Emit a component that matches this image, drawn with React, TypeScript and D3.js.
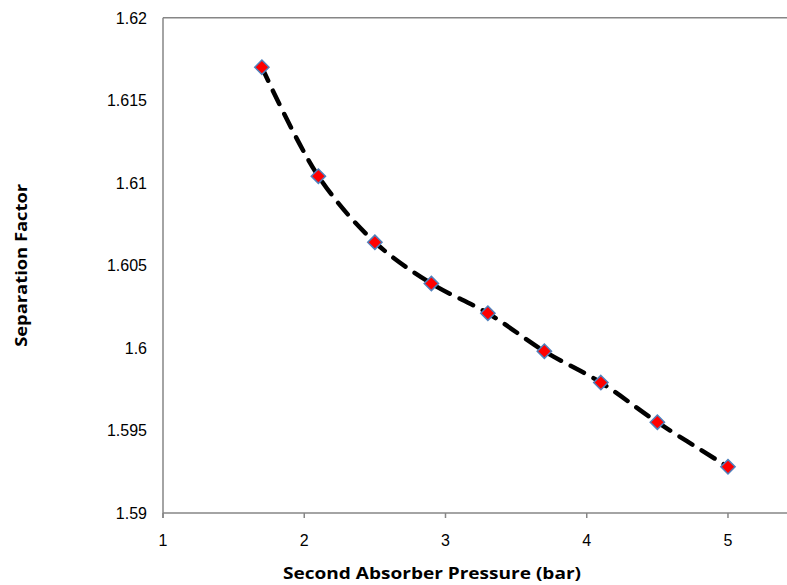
import React, { useEffect, useRef } from "react";
import * as d3 from "d3";

const pressures = [1.7, 2.1, 2.5, 2.9, 3.3, 3.7, 4.1, 4.5, 5.0];
const factors = [1.617, 1.6104, 1.6064, 1.6039, 1.6021, 1.5998, 1.5979, 1.5955, 1.5928];
const xTicks = [1, 2, 3, 4, 5];
const yTicks = [1.59, 1.595, 1.6, 1.605, 1.61, 1.615, 1.62];
const yTickLabels = ["1.59", "1.595", "1.6", "1.605", "1.61", "1.615", "1.62"];
const xTitle = "Second Absorber Pressure (bar)";
const yTitle = "Separation  Factor";

const W = 787;
const H = 585;

export default function App() {
  const ref = useRef<SVGSVGElement>(null);
  useEffect(() => {
    const svg = d3.select(ref.current);
    svg.selectAll("*").remove();
    const x = d3.scaleLinear().domain([1, 5.5]).range([163, 798.6]);
    const y = d3.scaleLinear().domain([1.59, 1.62]).range([513, 17.7]);
    const axisColor = "#868686";
    const titleFont = "'Liberation Sans Narrow', 'Open Sans', sans-serif";

    svg.append("line").attr("x1", x(1)).attr("x2", W + 5).attr("y1", y(1.62)).attr("y2", y(1.62))
      .attr("stroke", axisColor).attr("stroke-width", 1.5);
    svg.append("line").attr("x1", x(1)).attr("x2", W + 5).attr("y1", y(1.59)).attr("y2", y(1.59))
      .attr("stroke", axisColor).attr("stroke-width", 1.5);
    svg.append("line").attr("x1", x(1)).attr("x2", x(1)).attr("y1", y(1.62)).attr("y2", y(1.59) + 5)
      .attr("stroke", axisColor).attr("stroke-width", 1.5);

    xTicks.forEach((t) => {
      svg.append("line").attr("x1", x(t)).attr("x2", x(t)).attr("y1", y(1.59)).attr("y2", y(1.59) + 5)
        .attr("stroke", axisColor).attr("stroke-width", 1.5);
      svg.append("text").attr("x", x(t)).attr("y", 546).attr("text-anchor", "middle")
        .attr("font-family", "Liberation Sans, Arial, sans-serif").attr("font-size", 16).attr("fill", "#000")
        .text(String(t));
    });
    yTicks.forEach((t, i) => {
      svg.append("text").attr("x", 147).attr("y", y(t) + 6).attr("text-anchor", "end")
        .attr("font-family", "Liberation Sans, Arial, sans-serif").attr("font-size", 16).attr("fill", "#000")
        .text(yTickLabels[i]);
    });

    svg.append("text").attr("x", 432).attr("y", 579).attr("text-anchor", "middle")
      .attr("font-family", titleFont).attr("font-weight", "bold").attr("font-size", 16)
      .attr("textLength", 298).attr("lengthAdjust", "spacingAndGlyphs").text(xTitle);
    svg.append("text").attr("transform", `translate(27,${(y(1.62) + y(1.59)) / 2}) rotate(-90)`)
      .attr("text-anchor", "middle")
      .attr("font-family", titleFont).attr("font-weight", "bold").attr("font-size", 16)
      .attr("textLength", 163).attr("lengthAdjust", "spacingAndGlyphs").text(yTitle);

    const data = pressures.map((p, i) => [p, factors[i]] as [number, number]);
    const line = d3.line<[number, number]>().x((d) => x(d[0])).y((d) => y(d[1])).curve(d3.curveCatmullRom.alpha(0.5));
    svg.append("path").attr("d", line(data)).attr("fill", "none").attr("stroke", "#000")
      .attr("stroke-width", 4.5).attr("stroke-dasharray", "15,11").attr("stroke-linecap", "round");

    const sym = d3.symbol().type(d3.symbolDiamond2).size(130);
    svg.selectAll("path.pt").data(data).enter().append("path").attr("class", "pt")
      .attr("d", sym()).attr("transform", (d) => `translate(${x(d[0])},${y(d[1])})`)
      .attr("fill", "#ff0000").attr("stroke", "#4f81bd").attr("stroke-width", 1.5);
  }, []);
  return (
    <svg ref={ref} width={W} height={H} style={{ position: "absolute", left: 0, top: 0, background: "#fff" }} />
  );
}
